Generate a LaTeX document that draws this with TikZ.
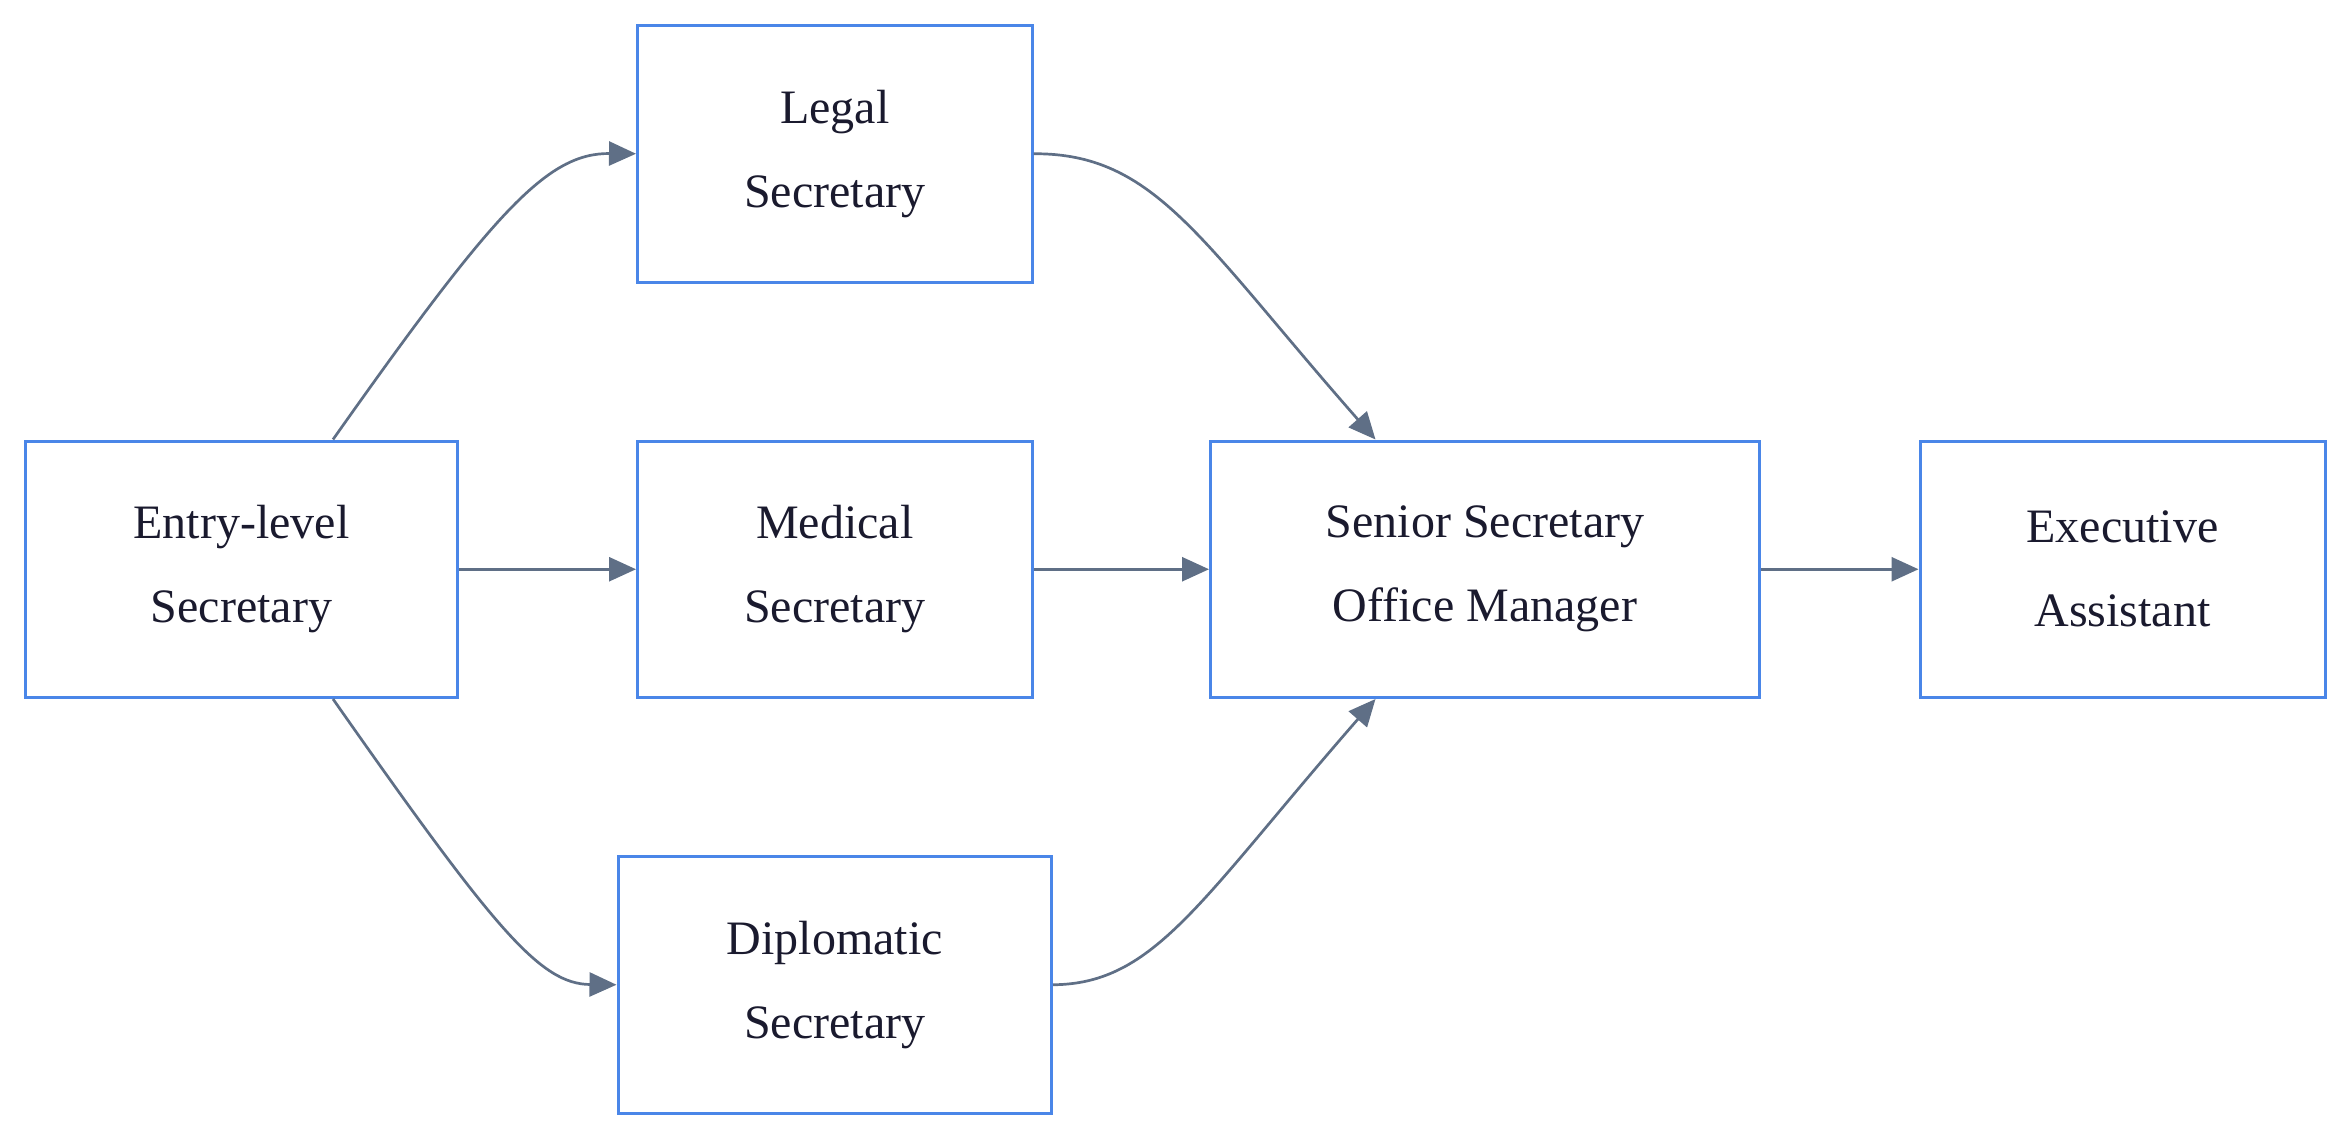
\documentclass[tikz,border=0pt]{standalone}
\usepackage{fontspec}
\setmainfont{Liberation Serif}
\usetikzlibrary{calc,arrows.meta}
\definecolor{bx}{HTML}{4A86E8}
\definecolor{ed}{HTML}{5F6F86}
\definecolor{tx}{HTML}{1A1A2E}
\begin{document}
\begin{tikzpicture}[x=0.5pt,y=-0.5pt,
  box/.style={draw=bx,line width=1pt,fill=white,text=tx,align=center,inner sep=0pt,
    font=\fontsize{16}{28}\selectfont},
  ar/.style={draw=ed,line width=0.9pt,-{Triangle[length=9pt,width=8pt]}}]
\useasboundingbox (0,0) rectangle (1568,759.5);
\node[box,minimum width=144pt,minimum height=85.5pt] (E) at (161,379.5) {Entry-level\\Secretary};
\node[box,minimum width=131.5pt,minimum height=85.5pt] (L) at (556.5,102.5) {Legal\\Secretary};
\node[box,minimum width=131.5pt,minimum height=85.5pt] (M) at (556.5,379.5) {Medical\\Secretary};
\node[box,minimum width=144.5pt,minimum height=85.5pt] (D) at (556.5,656.5) {Diplomatic\\Secretary};
\node[box,minimum width=183pt,minimum height=85.5pt] (S) at (990,379.5) {Senior Secretary\\Office Manager};
\node[box,minimum width=135pt,minimum height=85.5pt] (X) at (1415,379.5) {Executive\\Assistant};
\coordinate (Et) at ($(E.north)+(30.5pt,0)$);
\coordinate (Eb) at ($(E.south)+(30.5pt,0)$);
\coordinate (St) at ($(S.north)+(-36.5pt,0)$);
\coordinate (Sb) at ($(S.south)+(-36.5pt,0)$);
\draw[ar] (Et) .. controls (330,140) and (365,102) .. (L.west);
\draw[ar] (Eb) .. controls (330,620) and (360,656) .. (D.west);
\draw[ar] (L.east) .. controls (770,102) and (800,160) .. (St);
\draw[ar] (D.east) .. controls (770,656) and (800,600) .. (Sb);
\draw[ar] (E.east) -- (M.west);
\draw[ar] (M.east) -- (S.west);
\draw[ar] (S.east) -- (X.west);
\end{tikzpicture}
\end{document}
